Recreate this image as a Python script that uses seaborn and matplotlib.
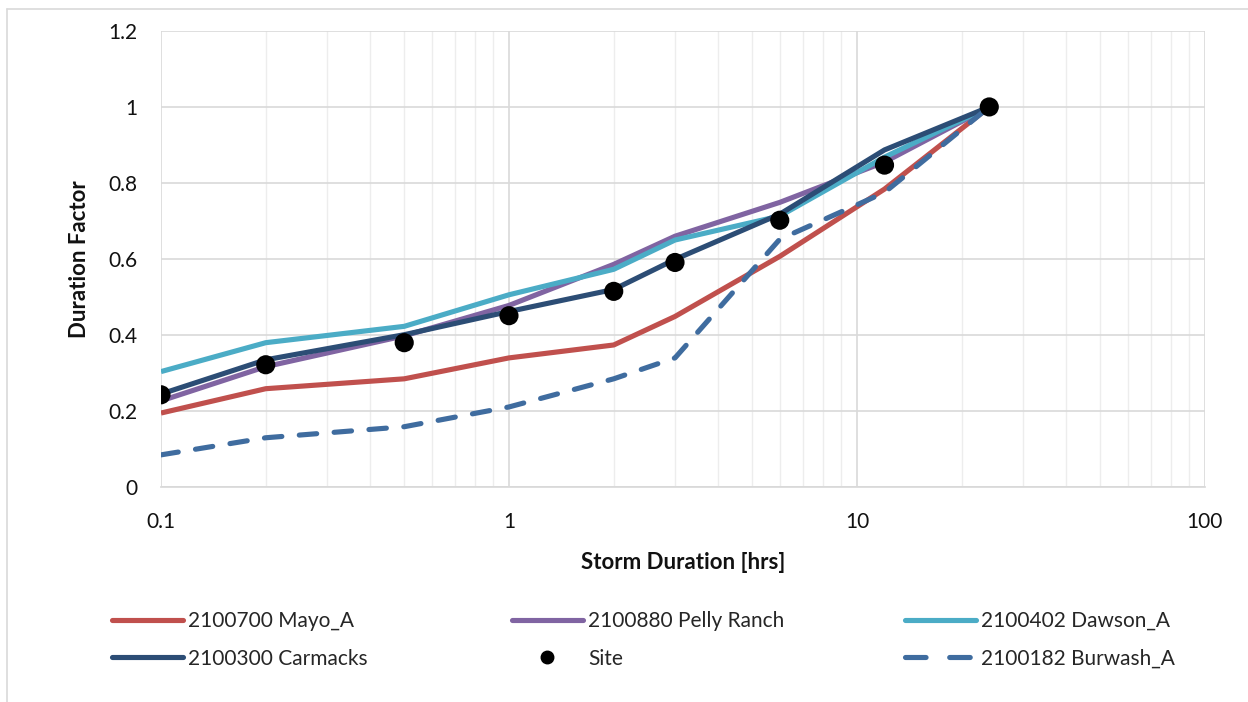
import numpy as np
import pandas as pd
import matplotlib
matplotlib.use("Agg")
import matplotlib.pyplot as plt
import seaborn as sns
from matplotlib.lines import Line2D
from matplotlib.ticker import FixedLocator, LogLocator, NullFormatter

# 数据
durations = [0.1, 0.2, 0.5, 1, 2, 3, 6, 12, 24]
mayo = [0.195, 0.259, 0.285, 0.340, 0.374, 0.449, 0.607, 0.784, 1.0]
pelly = [0.227, 0.317, 0.398, 0.478, 0.586, 0.660, 0.749, 0.855, 1.0]
dawson = [0.304, 0.380, 0.423, 0.506, 0.573, 0.650, 0.713, 0.868, 1.0]
carmacks = [0.245, 0.335, 0.401, 0.462, 0.520, 0.599, 0.718, 0.887, 1.0]
site = [0.243, 0.322, 0.380, 0.451, 0.515, 0.591, 0.702, 0.847, 1.0]
burwash = [0.085, 0.130, 0.159, 0.211, 0.285, 0.340, 0.652, 0.775, 1.0]

station_names = ["2100700 Mayo_A", "2100880 Pelly Ranch", "2100402 Dawson_A",
                 "2100300 Carmacks", "2100182 Burwash_A"]
station_values = [mayo, pelly, dawson, carmacks, burwash]
colors = ["#C0504D", "#8064A2", "#4BACC6", "#2C4D75", "#3F6C9F"]

df = pd.DataFrame({
    "duration": np.tile(durations, len(station_names)),
    "factor": np.concatenate(station_values),
    "station": np.repeat(station_names, len(durations)),
})
site_df = pd.DataFrame({"duration": durations, "factor": site})

sns.set_theme(style="white")
plt.rcParams['font.family'] = ['Lato', 'DejaVu Sans']

fig = plt.figure(figsize=(12.48, 7.02), dpi=100)
ax = fig.add_axes([0.129, 0.306, 0.8365, 0.650])

lw = 3.7
dash = (0, (3.4, 3.4))
for name, col in zip(station_names, colors):
    sub = df[df["station"] == name]
    ls = dash if "Burwash" in name else "-"
    sns.lineplot(data=sub, x="duration", y="factor", ax=ax, color=col,
                 linewidth=lw, linestyle=ls, legend=False, zorder=3,
                 solid_capstyle="butt", dash_capstyle="round")
sns.scatterplot(data=site_df, x="duration", y="factor", ax=ax, color="black",
                s=190, edgecolor="none", zorder=5, legend=False)

ax.set_xscale("log")
ax.set_xlim(0.1, 100)
ax.set_ylim(0, 1.2)
ax.yaxis.set_major_locator(FixedLocator([0, 0.2, 0.4, 0.6, 0.8, 1.0, 1.2]))
ax.set_yticklabels(["0", "0.2", "0.4", "0.6", "0.8", "1", "1.2"])
ax.xaxis.set_major_locator(FixedLocator([0.1, 1, 10, 100]))
ax.set_xticklabels(["0.1", "1", "10", "100"])
ax.xaxis.set_minor_locator(LogLocator(base=10, subs=np.arange(2, 10)))
ax.xaxis.set_minor_formatter(NullFormatter())

ax.grid(True, which="major", color="#D9D9D9", linewidth=1.2)
ax.grid(True, which="minor", axis="x", color="#EDEDED", linewidth=1.0)
ax.set_axisbelow(True)
for s in ["top", "right", "left"]:
    ax.spines[s].set_visible(False)
ax.spines["bottom"].set_color("#D9D9D9")
ax.tick_params(axis="x", which="both", length=0, labelsize=15, pad=18,
               colors="#111111")
ax.tick_params(axis="y", which="both", length=0, labelsize=15, pad=17,
               colors="#111111")

ax.set_xlabel("Storm Duration [hrs]", fontsize=16, fontweight="bold",
              labelpad=14, color="#111111")
ax.set_ylabel("Duration Factor", fontsize=16, fontweight="bold",
              labelpad=13, color="#111111")

# 图例：三列，固定列位置
line_handles = {name: Line2D([], [], color=col, linewidth=lw,
                             solid_capstyle="round")
                for name, col in zip(station_names, colors)}
line_handles["2100182 Burwash_A"] = Line2D([], [], color=colors[4], linewidth=lw,
                                           linestyle=(0, (4.0, 4.6)),
                                           dash_capstyle="round")
site_handle = Line2D([], [], color="black", marker="o", linestyle="none",
                     markersize=9)

legend_cols = [
    ([line_handles["2100700 Mayo_A"], line_handles["2100300 Carmacks"]],
     ["2100700 Mayo_A", "2100300 Carmacks"], 112),
    ([line_handles["2100880 Pelly Ranch"], site_handle],
     ["2100880 Pelly Ranch", "Site"], 512),
    ([line_handles["2100402 Dawson_A"], line_handles["2100182 Burwash_A"]],
     ["2100402 Dawson_A", "2100182 Burwash_A"], 905),
]
for hs, ls_, x0 in legend_cols:
    fig.legend(hs, ls_, loc="upper left", bbox_to_anchor=(x0 / 1248, 1 - 611 / 702),
               frameon=False, fontsize=15, handlelength=3.4, handletextpad=0.25,
               labelspacing=0.85, borderpad=0, borderaxespad=0)

# 外框线
fig.add_artist(Line2D([7 / 1248, 7 / 1248], [0.0, 1 - 9 / 702], color="#D9D9D9",
                      linewidth=1.2))
fig.add_artist(Line2D([7 / 1248, 1.0], [1 - 9 / 702, 1 - 9 / 702], color="#D9D9D9",
                      linewidth=1.2))

fig.savefig("out.png", dpi=100)
